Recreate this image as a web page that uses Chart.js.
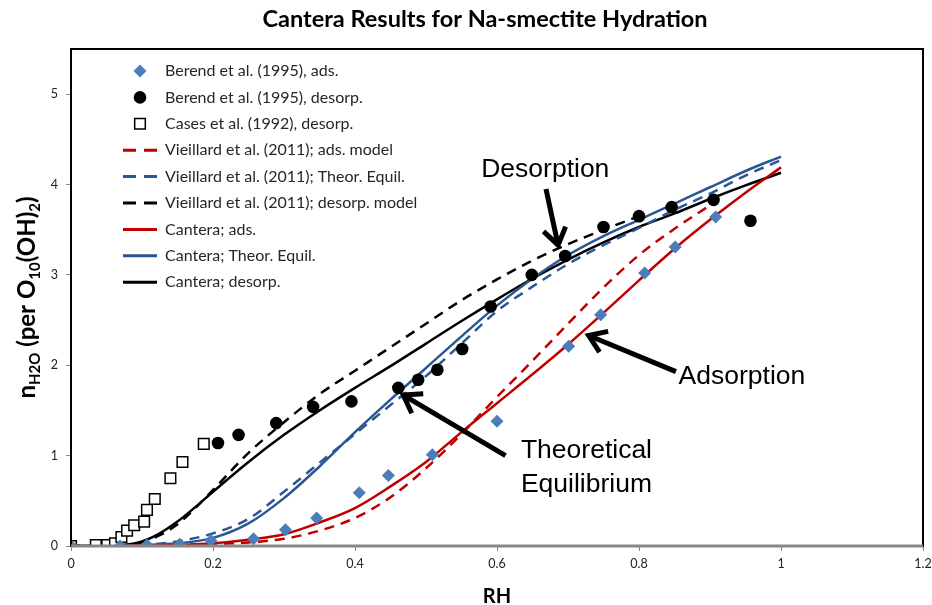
<!DOCTYPE html>
<html>
<head>
<meta charset="utf-8">
<script src="https://cdn.jsdelivr.net/npm/chart.js@4.4.1/dist/chart.umd.min.js"></script>
<style>
  html, body { margin: 0; padding: 0; background: #fff; }
</style>
</head>
<body>
<canvas id="chart" width="932" height="605"></canvas>
<script>
// ===== data =====
const xTicks = [0, 0.2, 0.4, 0.6, 0.8, 1, 1.2];
const yTicks = [0, 1, 2, 3, 4, 5];

// Berend et al. (1995), ads.
const berendAdsRH = [0, 0.069, 0.107, 0.153, 0.197, 0.257, 0.302, 0.346, 0.406, 0.447, 0.509, 0.600, 0.701, 0.746, 0.808, 0.851, 0.908];
const berendAdsN  = [0, 0, 0.01, 0.02, 0.06, 0.08, 0.18, 0.31, 0.59, 0.78, 1.01, 1.38, 2.21, 2.56, 3.02, 3.31, 3.64];

// Berend et al. (1995), desorp.
const berendDesRH = [0.207, 0.236, 0.289, 0.341, 0.395, 0.461, 0.489, 0.516, 0.551, 0.591, 0.649, 0.696, 0.750, 0.800, 0.846, 0.905, 0.957];
const berendDesN  = [1.14, 1.23, 1.36, 1.54, 1.60, 1.75, 1.84, 1.95, 2.18, 2.65, 3.00, 3.21, 3.53, 3.65, 3.75, 3.83, 3.60];

// Cases et al. (1992), desorp.
const casesRH = [0, 0.035, 0.051, 0.062, 0.071, 0.079, 0.089, 0.103, 0.107, 0.118, 0.140, 0.157, 0.187];
const casesN  = [0, 0.01, 0.01, 0.03, 0.10, 0.17, 0.23, 0.27, 0.40, 0.52, 0.75, 0.93, 1.13];

// model curves
const gridRH = [0, 0.05, 0.1, 0.15, 0.2, 0.25, 0.3, 0.35, 0.4, 0.45, 0.5, 0.55, 0.6, 0.65, 0.7, 0.75, 0.8, 0.85, 0.9, 0.95, 1.0];
const fineRH = [0, 0.05, 0.075, 0.1, 0.125, 0.15, 0.175, 0.2, 0.25, 0.3, 0.35, 0.4, 0.45, 0.5, 0.55, 0.6, 0.65, 0.7, 0.75, 0.8, 0.85, 0.9, 0.95, 1.0];

const vieAdsRH   = [0, 0.05, 0.1, 0.15, 0.2, 0.25, 0.3, 0.35, 0.4, 0.45, 0.5, 0.55, 0.6, 0.65, 0.7, 0.75, 0.8, 0.85, 0.9];
const vieAdsN    = [0, 0, 0, 0.01, 0.02, 0.04, 0.08, 0.17, 0.31, 0.54, 0.86, 1.24, 1.65, 2.05, 2.46, 2.86, 3.22, 3.51, 3.77];
const vieTheorN  = [0, 0, 0.01, 0.05, 0.14, 0.30, 0.60, 0.92, 1.24, 1.56, 1.88, 2.24, 2.60, 2.87, 3.12, 3.33, 3.52, 3.72, 3.90, 4.10, 4.27];
const vieDesRH   = [0, 0.05, 0.075, 0.1, 0.125, 0.15, 0.175, 0.2, 0.25, 0.3, 0.35, 0.4, 0.45, 0.5, 0.55, 0.6, 0.65, 0.7, 0.75, 0.8];
const vieDesN    = [0, 0, 0.01, 0.04, 0.12, 0.24, 0.42, 0.62, 1.03, 1.37, 1.68, 1.94, 2.20, 2.46, 2.72, 2.95, 3.16, 3.34, 3.50, 3.65];

const canAdsN    = [0, 0, 0.005, 0.01, 0.03, 0.07, 0.13, 0.26, 0.42, 0.66, 0.93, 1.26, 1.58, 1.90, 2.23, 2.58, 2.94, 3.29, 3.61, 3.91, 4.19];
const canTheorN  = [0, 0, 0.01, 0.03, 0.09, 0.25, 0.53, 0.88, 1.26, 1.62, 1.97, 2.32, 2.66, 2.96, 3.22, 3.43, 3.61, 3.79, 3.97, 4.15, 4.31];
const canDesN    = [0, 0, 0.01, 0.05, 0.14, 0.27, 0.43, 0.60, 0.93, 1.23, 1.50, 1.75, 1.99, 2.24, 2.49, 2.73, 2.96, 3.17, 3.36, 3.53, 3.68, 3.84, 3.99, 4.13];

const RED = '#C00000';
const BLUE = '#2A5793';
const DIAMOND = '#4A7EBB';
const FONT = 'Lato, "Open Sans", sans-serif';

const pts = (xs, ys) => xs.map((x, i) => ({ x: x, y: ys[i] }));

function curve(label, xs, ys, color, dashed) {
  return {
    label: label,
    data: pts(xs, ys),
    showLine: true,
    borderColor: color,
    borderWidth: 2.5,
    borderDash: dashed ? [10, 7] : [],
    pointRadius: 0,
    cubicInterpolationMode: 'monotone',
    order: 2
  };
}

const datasets = [
  { label: 'Berend et al. (1995), ads.', data: pts(berendAdsRH, berendAdsN), pointStyle: 'rectRot',
    pointRadius: 6.5, backgroundColor: DIAMOND, borderColor: DIAMOND, borderWidth: 0, showLine: false, order: 0 },
  { label: 'Berend et al. (1995), desorp.', data: pts(berendDesRH, berendDesN), pointStyle: 'circle',
    pointRadius: 6.3, backgroundColor: '#000', borderColor: '#000', borderWidth: 0, showLine: false, order: 0 },
  { label: 'Cases et al. (1992), desorp.', data: pts(casesRH, casesN), pointStyle: 'rect',
    pointRadius: 7.5, backgroundColor: '#fff', borderColor: '#000', borderWidth: 1.5, showLine: false, order: 1 },
  curve('Vieillard et al. (2011); ads. model', vieAdsRH, vieAdsN, RED, true),
  curve('Vieillard et al. (2011); Theor. Equil.', gridRH, vieTheorN, BLUE, true),
  curve('Vieillard et al. (2011); desorp. model', vieDesRH, vieDesN, '#000', true),
  curve('Cantera; ads.', gridRH, canAdsN, RED, false),
  curve('Cantera; Theor. Equil.', gridRH, canTheorN, BLUE, false),
  curve('Cantera; desorp.', fineRH, canDesN, '#000', false)
];

// text labels with arrows, in data units
const notes = [
  { lines: ['Desorption'], x: 0.668, y: 4.16, from: [0.669, 3.95], to: [0.686, 3.33] },
  { lines: ['Adsorption'], x: 0.945, y: 1.87, from: [0.852, 1.93], to: [0.729, 2.33] },
  { lines: ['Theoretical', 'Equilibrium'], x: 0.726, y: 0.865, from: [0.612, 1.0], to: [0.468, 1.67] }
];

function arrow(ctx, x1, y1, x2, y2) {
  const a = Math.atan2(y2 - y1, x2 - x1);
  const L = 20, s = 0.6;
  ctx.save();
  ctx.strokeStyle = '#000';
  ctx.lineWidth = 5;
  ctx.lineCap = 'butt';
  ctx.lineJoin = 'miter';
  ctx.beginPath();
  ctx.moveTo(x1, y1);
  ctx.lineTo(x2 - 2 * Math.cos(a), y2 - 2 * Math.sin(a));
  ctx.stroke();
  ctx.beginPath();
  ctx.moveTo(x2 - L * Math.cos(a - s), y2 - L * Math.sin(a - s));
  ctx.lineTo(x2, y2);
  ctx.lineTo(x2 - L * Math.cos(a + s), y2 - L * Math.sin(a + s));
  ctx.stroke();
  ctx.restore();
}

const overlay = {
  id: 'overlay',
  afterDatasetsDraw(chart) {
    const ctx = chart.ctx;
    const area = chart.chartArea;
    const xs = chart.scales.x, ys = chart.scales.y;

    // plot frame
    ctx.save();
    ctx.strokeStyle = '#000';
    ctx.lineWidth = 2;
    ctx.strokeRect(area.left, area.top, area.right - area.left, area.bottom - area.top);
    ctx.strokeStyle = '#888';
    ctx.lineWidth = 3;
    ctx.beginPath();
    ctx.moveTo(area.left, area.bottom);
    ctx.lineTo(area.right, area.bottom);
    ctx.stroke();
    ctx.restore();

    // annotations
    ctx.save();
    ctx.fillStyle = '#000';
    ctx.font = '26.5px "Liberation Sans", Arial, sans-serif';
    ctx.textAlign = 'center';
    ctx.textBaseline = 'middle';
    notes.forEach(n => {
      const cx = xs.getPixelForValue(n.x), cy = ys.getPixelForValue(n.y);
      n.lines.forEach((t, i) => {
        ctx.fillText(t, cx, cy + (i - (n.lines.length - 1) / 2) * 34);
      });
      arrow(ctx, xs.getPixelForValue(n.from[0]), ys.getPixelForValue(n.from[1]),
                 xs.getPixelForValue(n.to[0]), ys.getPixelForValue(n.to[1]));
    });
    ctx.restore();

    // legend
    ctx.save();
    ctx.font = '16px ' + FONT;
    ctx.textBaseline = 'middle';
    ctx.textAlign = 'left';
    datasets.forEach((ds, i) => {
      const y = 71 + i * 26.4;
      const sx = 140;
      if (ds.showLine) {
        ctx.strokeStyle = ds.borderColor;
        ctx.lineWidth = 3;
        ctx.setLineDash(ds.borderDash.length ? [13, 8] : []);
        ctx.beginPath();
        ctx.moveTo(123, y);
        ctx.lineTo(157, y);
        ctx.stroke();
        ctx.setLineDash([]);
      } else {
        ctx.fillStyle = ds.backgroundColor;
        ctx.strokeStyle = ds.borderColor;
        ctx.lineWidth = ds.borderWidth;
        ctx.beginPath();
        if (ds.pointStyle === 'rectRot') {
          const r = ds.pointRadius;
          ctx.moveTo(sx, y - r); ctx.lineTo(sx + r, y); ctx.lineTo(sx, y + r); ctx.lineTo(sx - r, y);
          ctx.closePath(); ctx.fill();
        } else if (ds.pointStyle === 'circle') {
          ctx.arc(sx, y, ds.pointRadius, 0, Math.PI * 2); ctx.fill();
        } else {
          const h = ds.pointRadius * Math.SQRT1_2;
          ctx.rect(sx - h, y - h, 2 * h, 2 * h); ctx.fill(); ctx.stroke();
        }
      }
      ctx.fillStyle = '#262626';
      ctx.fillText(ds.label, 165, y);
    });
    ctx.restore();
  },
  afterDraw(chart) {
    const ctx = chart.ctx;
    const area = chart.chartArea;
    ctx.save();
    ctx.fillStyle = '#000';
    ctx.textBaseline = 'middle';
    ctx.textAlign = 'center';
    // title
    ctx.font = 'bold 23.5px ' + FONT;
    ctx.fillText('Cantera Results for Na-smectite Hydration', 485, 19);
    // x title
    ctx.font = 'bold 20px ' + FONT;
    ctx.fillText('RH', (area.left + area.right) / 2, 597);

    // y title with subscripts
    const parts = [
      ['n', false], ['H2O', true], [' (per O', false], ['10', true], ['(OH)', false], ['2', true], [')', false]
    ];
    const big = 'bold 24px ' + FONT;
    const small = 'bold 15px ' + FONT;
    let total = 0;
    parts.forEach(p => { ctx.font = p[1] ? small : big; total += ctx.measureText(p[0]).width; });
    ctx.translate(35, (area.top + area.bottom) / 2);
    ctx.rotate(-Math.PI / 2);
    ctx.textAlign = 'left';
    ctx.textBaseline = 'alphabetic';
    let px = -total / 2;
    parts.forEach(p => {
      ctx.font = p[1] ? small : big;
      ctx.fillText(p[0], px, p[1] ? 5 : 0);
      px += ctx.measureText(p[0]).width;
    });
    ctx.restore();
  }
};

new Chart(document.getElementById('chart'), {
  type: 'scatter',
  data: { datasets: datasets },
  options: {
    responsive: false,
    animation: false,
    layout: { padding: { left: 0, right: 7, top: 49, bottom: 0 } },
    plugins: {
      legend: { display: false },
      title: { display: false },
      tooltip: { enabled: false }
    },
    scales: {
      x: {
        type: 'linear',
        min: 0,
        max: 1.2,
        afterBuildTicks: s => { s.ticks = xTicks.map(v => ({ value: v })); },
        afterFit: s => { s.height = 59; s.paddingRight = 0; s.paddingLeft = 0; },
        grid: { drawOnChartArea: false, drawTicks: true, tickLength: 5, color: '#888' },
        border: { display: false },
        ticks: {
          padding: 5,
          color: '#222',
          font: { family: FONT, size: 12.5 },
          callback: v => String(v)
        }
      },
      y: {
        type: 'linear',
        min: 0,
        max: 5.5,
        afterBuildTicks: s => { s.ticks = yTicks.map(v => ({ value: v })); },
        afterFit: s => { s.width = 71; s.paddingTop = 0; s.paddingBottom = 0; },
        grid: { drawOnChartArea: false, drawTicks: true, tickLength: 5, color: '#888' },
        border: { display: false },
        ticks: {
          padding: 8,
          color: '#222',
          font: { family: FONT, size: 12.5 },
          callback: v => String(v)
        }
      }
    }
  },
  plugins: [overlay]
});
</script>
</body>
</html>
